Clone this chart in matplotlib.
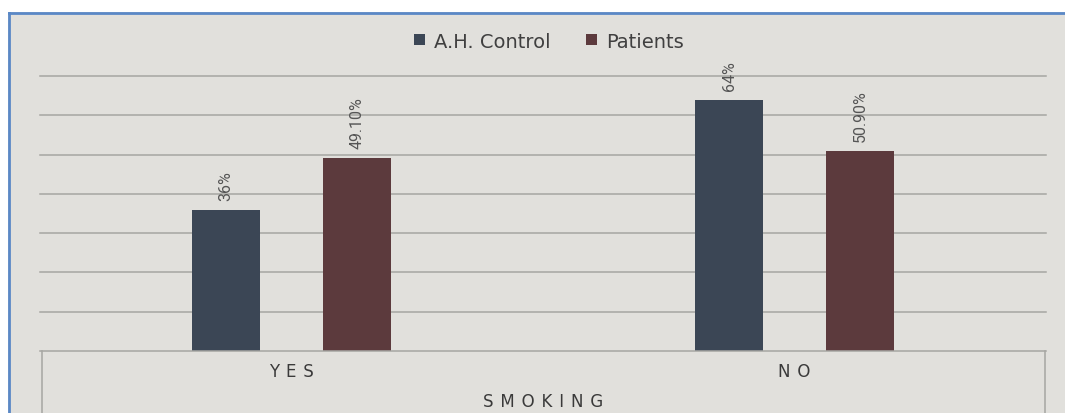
import matplotlib
matplotlib.use("Agg")
import matplotlib.pyplot as plt
from matplotlib.patches import Rectangle
from matplotlib.lines import Line2D

# data
categories = ["YES", "NO"]
series = ["A.H. Control", "Patients"]
control = [36, 64]
patients = [49.1, 50.9]
labels_control = ["36%", "64%"]
labels_patients = ["49.10%", "50.90%"]
axis_title = "SMOKING"

bg = "#E1E0DC"
colors = ["#3B4655", "#5C3A3D"]
grid_c = "#A6A6A2"

W, H = 1065, 414
fig = plt.figure(figsize=(W/100, H/100), dpi=100, facecolor=bg)

# white margin on top/left, blue frame line
fig.add_artist(Rectangle((0, (H - 13)/H), 1, 13/H, transform=fig.transFigure,
                         facecolor="white", edgecolor="none", zorder=-5))
fig.add_artist(Rectangle((0, 0), 8/W, 1, transform=fig.transFigure,
                         facecolor="white", edgecolor="none", zorder=-5))
fig.add_artist(Line2D([8.5/W, 1], [(H - 13.5)/H]*2, color="#5A88C6", lw=2, zorder=-4))
fig.add_artist(Line2D([8.5/W]*2, [0, (H - 13.5)/H], color="#5A88C6", lw=2, zorder=-4))

ax = fig.add_axes([40/W, (H - 352)/H, (1046 - 40)/W, (352 - 77)/H])
ax.set_facecolor("none")
for s in ax.spines.values():
    s.set_visible(False)

x = range(len(categories))
off, bw = 0.13, 0.135
ax.bar([i - off for i in x], control, bw, color=colors[0], zorder=3, label=series[0])
ax.bar([i + off for i in x], patients, bw, color=colors[1], zorder=3, label=series[1])

ax.set_xlim(-0.5, 1.5)
ax.set_ylim(0, 70)
ax.set_yticks(range(10, 71, 10))
ax.yaxis.grid(True, color=grid_c, linewidth=1.1)
for gl in ax.get_ygridlines():
    gl.set_clip_on(False)
ax.set_axisbelow(True)
ax.tick_params(left=False, labelleft=False, bottom=False, labelbottom=False)

font_lbl = ["Roboto", "DejaVu Sans"]
for i in x:
    ax.annotate(labels_control[i], (i - off, control[i]), xytext=(0, 7), textcoords="offset points",
                rotation=90, ha="center", va="bottom", fontsize=11.5, color="#555555", family=font_lbl)
    ax.annotate(labels_patients[i], (i + off, patients[i]), xytext=(0, 7), textcoords="offset points",
                rotation=90, ha="center", va="bottom", fontsize=11.5, color="#555555", family=font_lbl)

# category axis box
fig.add_artist(Line2D([40/W, 1046/W], [(H - 352)/H]*2, color=grid_c, lw=1.1))
fig.add_artist(Line2D([41.5/W]*2, [0, (H - 352)/H], color=grid_c, lw=1.1))
fig.add_artist(Line2D([1045/W]*2, [0, (H - 352)/H], color=grid_c, lw=1.1))

sep = " \u200a"
for i, c in enumerate(categories):
    xf = (40 + (i + 0.5) * 503) / W
    fig.text(xf, (H - 372)/H, sep.join(c), ha="center", va="center", fontsize=12, color="#3A3A3A")
fig.text(543/W, (H - 402)/H, sep.join(axis_title), ha="center", va="center", fontsize=12, color="#3A3A3A")

leg = fig.legend(loc="center", bbox_to_anchor=(549/W, (H - 42)/H), ncol=2, frameon=False,
                 fontsize=14, handlelength=0.55, handleheight=0.55, handletextpad=0.5, columnspacing=1.8)
for t in leg.get_texts():
    t.set_color("#404040")

fig.savefig("out.png", dpi=100, facecolor=fig.get_facecolor())
